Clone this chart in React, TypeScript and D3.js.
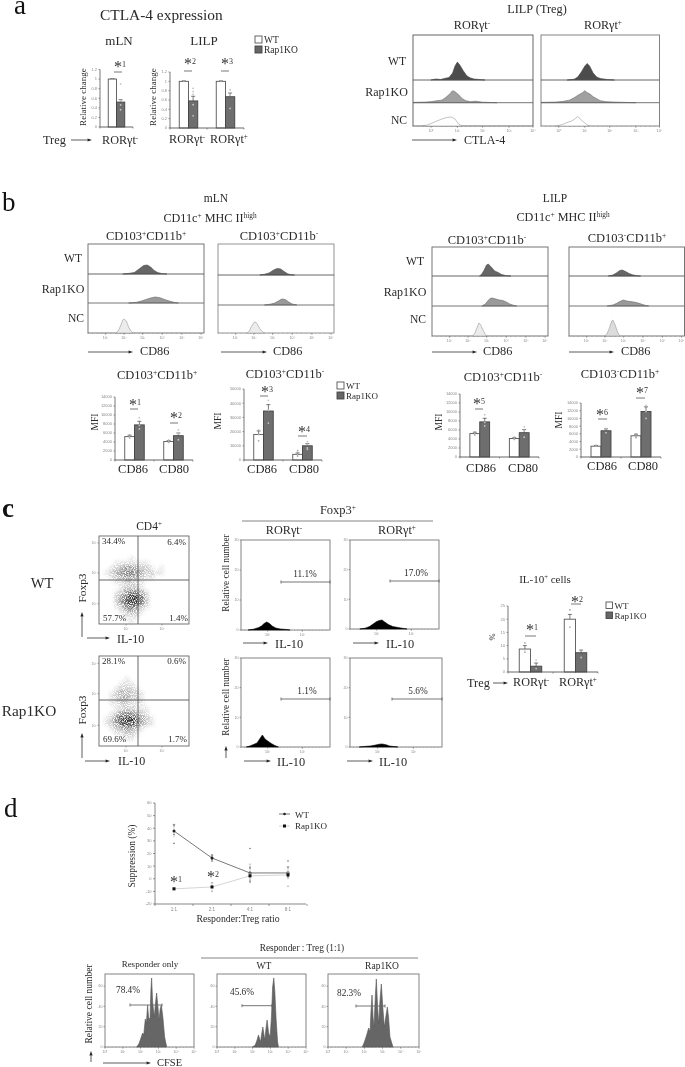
import React from 'react';
import * as d3 from 'd3';

type Pt = [number, number];

// ---------- bar chart data ----------
const groupsRor1 = ['RORγt-'];
const groupsRor2 = ['RORγt-', 'RORγt+'];
const groupsCd = ['CD86', 'CD80'];

const relTicks = [0, 0.2, 0.4, 0.6, 0.8, 1, 1.2];
const mlnCtlaWT = [1];
const mlnCtlaKO = [0.52];
const mlnCtlaErrWT = [0.01];
const mlnCtlaErrKO = [0.05];
const mlnCtlaDotsWT = [[1]];
const mlnCtlaDotsKO = [[0.9, 0.55, 0.46, 0.36]];
const lilpCtlaWT = [1, 1];
const lilpCtlaKO = [0.58, 0.67];
const lilpCtlaErrWT = [0.01, 0.01];
const lilpCtlaErrKO = [0.1, 0.08];
const lilpCtlaDotsWT = [[1], [1]];
const lilpCtlaDotsKO = [[0.85, 0.78, 0.72, 0.5, 0.26], [0.82, 0.76, 0.7, 0.42]];

const mfi1WT = [5200, 4100];
const mfi1KO = [7800, 5400];
const mfi1ErrWT = [300, 200];
const mfi1ErrKO = [800, 600];
const mfi1DotsWT = [[5600, 5200, 4900], [4400, 4100, 3900]];
const mfi1DotsKO = [[9400, 7700, 6900], [6700, 5800, 4500]];
const mfi2WT = [18000, 4000];
const mfi2KO = [34500, 10000];
const mfi2ErrWT = [2500, 1000];
const mfi2ErrKO = [4500, 1500];
const mfi2DotsWT = [[21000, 18000, 13500], [6500, 4000, 2800]];
const mfi2DotsKO = [[42000, 35000, 26000], [13000, 11000, 8500, 7500]];
const mfi3WT = [5200, 4100];
const mfi3KO = [7800, 5400];
const mfi3ErrWT = [300, 200];
const mfi3ErrKO = [800, 700];
const mfi3DotsWT = [[5600, 5200, 4900], [4400, 4100, 3900]];
const mfi3DotsKO = [[9400, 7700, 6900], [6700, 5900, 4400]];
const mfi4WT = [2800, 5500];
const mfi4KO = [6800, 11800];
const mfi4ErrWT = [200, 400];
const mfi4ErrKO = [500, 1200];
const mfi4DotsWT = [[3000, 2800], [6000, 5400, 5000]];
const mfi4DotsKO = [[7400, 6300], [13400, 11800, 10000]];
const mfiTicks14 = [0, 2000, 4000, 6000, 8000, 10000, 12000, 14000];
const mfiTicks50 = [0, 10000, 20000, 30000, 40000, 50000];

const il10Ticks = [0, 5, 10, 15, 20, 25];
const il10WT = [8.7, 20];
const il10KO = [2.2, 7.3];
const il10ErrWT = [1.3, 1.8];
const il10ErrKO = [1.2, 1];
const il10DotsWT = [[11, 8.5, 7.5], [23.5, 17]];
const il10DotsKO = [[4.5, 1.3], [8.5, 5.5]];

// ---------- histogram data: [% of the axis, count] ----------
const a1WT: Pt[] = [[15,0],[19,1],[23,.5],[26,1.5],[30,2.5],[33,7],[35,14],[37,18],[39,15],[42,9],[45,4],[48,2],[51,1],[55,.5],[60,0]];
const a1KO: Pt[] = [[0,.3],[10,.6],[15,1],[20,2],[24,2.5],[27,5],[30,8],[33,12],[35,11],[38,8],[41,4],[44,2],[48,1],[52,1.5],[58,.5],[70,0]];
const a1NC: Pt[] = [[8,0],[12,1],[16,3],[20,5],[24,7],[28,8.5],[32,9],[35,7],[38,2],[41,0]];
const a2WT: Pt[] = [[22,0],[28,.8],[31,3],[34,8],[37,14],[39,16.5],[41,14],[44,7],[47,3],[50,1.5],[56,.5],[62,0]];
const a2KO: Pt[] = [[0,.3],[12,.6],[18,1.2],[24,2.5],[28,5],[32,8],[35,10],[37,12],[39,10],[41,9],[44,6],[47,4],[50,2],[55,1],[65,.5],[80,0]];
const a2NC: Pt[] = [[13,0],[18,1.5],[22,3.5],[26,5],[29,7.5],[31,9.5],[34,6],[37,3],[39,1],[41,0]];

const b1WT: Pt[] = [[30,0],[36,.7],[40,1.5],[44,5],[48,8.5],[51,9],[54,7],[57,3.5],[60,1.5],[64,.3],[68,0]];
const b1KO: Pt[] = [[35,0],[42,.7],[46,2],[50,3.5],[54,5],[58,6],[62,5.3],[66,3.5],[70,2],[74,.7],[78,0]];
const b1NC: Pt[] = [[24,0],[26,2],[28,7],[30,13],[31,14],[33,12],[35,6],[37,2],[39,0]];
const b2WT: Pt[] = [[36,0],[40,.7],[44,2],[48,5],[51,6.5],[54,6],[57,3.5],[60,1.2],[63,.3],[66,0]];
const b2KO: Pt[] = [[40,0],[45,.8],[49,2],[52,4],[55,6],[58,5.5],[61,3],[64,1],[68,0]];
const b2NC: Pt[] = [[25,0],[27,2],[29,7],[31,10.5],[32.5,11],[34,8.5],[36,4.5],[38,1.5],[40,0]];
const b3WT: Pt[] = [[41,0],[43,2],[45,6],[47,11],[48.5,12],[51,9],[54,5],[57,3.5],[60,1.5],[64,.3],[68,0]];
const b3KO: Pt[] = [[43,0],[46,2],[48,5],[50,7.5],[52,8],[55,7],[58,6],[61,5.5],[64,4],[67,2],[70,.8],[73,0]];
const b3NC: Pt[] = [[35,0],[37,3],[39,9],[40.5,13],[42,11],[44,6],[46,1.5],[47,0]];
const b4WT: Pt[] = [[34,0],[38,1],[41,3],[44,5.5],[46,6],[49,4.5],[52,2.5],[55,1.2],[59,.2],[62,0]];
const b4KO: Pt[] = [[33,0],[38,1],[41,2.5],[44,4.5],[47,6],[50,5],[53,4.5],[56,4],[59,3.3],[62,2.2],[65,1],[69,0]];
const b4NC: Pt[] = [[31,0],[33,2.5],[35,8],[37,15],[38,16],[40,11],[42,4],[44,0]];

const cTL: Pt[] = [[8,0],[14,.8],[20,2.5],[23,4],[26,6.5],[29,8],[32,6.5],[35,4],[39,2],[44,1],[50,.6],[55,0]];
const cTR: Pt[] = [[11,0],[17,.8],[22,2.5],[26,5],[30,7.5],[33,8.5],[36,9],[39,7],[43,4.5],[48,2.5],[54,1.5],[60,.6],[64,0]];
const cBL: Pt[] = [[6,0],[10,1],[14,2.5],[18,4],[21,8],[24,12],[27,8],[30,6],[34,3.5],[38,1.5],[42,0]];
const cBR: Pt[] = [[10,0],[16,.6],[22,1],[28,2],[32,2.8],[35,3],[39,2.3],[43,1],[48,.4],[52,0]];

const dOnly: Pt[] = [[35.6,0],[38,3],[40,8],[42.3,14],[43.5,12],[45.3,28],[46.5,24],[47.9,42],[49,29],[50.6,28],[51.5,55],[52.4,69],[53.5,45],[55.4,30],[56.5,42],[58,54],[59.5,40],[60.7,27],[62,38],[63.3,42],[65,30],[67,10],[69.3,0]];
const dWT: Pt[] = [[39.9,0],[43,2],[45,7],[46.6,12],[48.9,5],[50,12],[51.5,20],[53,11],[53.7,7],[55,18],[56.3,27],[58,14],[59.7,10],[61.2,30],[62.5,60],[63.8,69],[65,55],[66.4,28],[68,6],[69,0]];
const dKO: Pt[] = [[37.7,0],[40,5],[42.5,12],[44.7,19],[46.2,15],[47.2,35],[48.4,52],[49.5,30],[50.5,20],[52,50],[53.1,68],[54.5,40],[55.7,23],[57,45],[58.6,63],[60.2,40],[61.9,20],[63.5,30],[65.2,40],[66.5,30],[68.1,10],[71.4,0]];

// ---------- dot-plot densities: one digit per cell, 0 (empty) to 9 (darkest) ----------
const dotWT = [
  '000000000000000000','000000000000000000','000000000000000000','000000000000000000',
  '000000100000000000','000111111100000000','001234432210100000','012345543221100000',
  '001234432110000000','000112211000000000','000012221000000000','000124543100000000',
  '000246896200000000','000247885200000000','000125642100000000','000012321000000000',
  '000001110000000000','000000100000000000',
];
const dotKO = [
  '000000000000000000','000000000000000000','000000000000000000','000000000000000000',
  '000001000000000000','000011100000000000','000122210000000000','001233221000000000',
  '001233221000000000','001122111000000000','000112211100000000','001245432100000000',
  '012578964210000000','012478763210000000','001234321000000000','000112210000000000',
  '000001100000000000','000000000000000000',
];

// ---------- suppression line chart ----------
const ratios = ['1:1', '2:1', '4:1', '8:1'];
const suppTicks = [-20, -10, 0, 10, 20, 30, 40, 50, 60];
const suppWT = [37.8, 16.4, 4.6, 4.6];
const suppKO = [-8, -6.5, 2.3, 3];
const suppErrWT = [5, 2, 7, 5];
const suppErrKO = [1, 3, 2.5, 3];
const suppDotsWT = [[43, 42, 35, 28], [19, 18, 15, 14], [24, 9, 5, 2, -2], [14, 9, 5, 2]];
const suppDotsKO = [[-8], [-3, -6, -10], [8, 4, 2, -1, -3], [9, 5, 3, 1, -6]];

// ---------- styles ----------
const SERIF = '"Liberation Serif", serif';
const SANS = '"Liberation Sans", sans-serif';
const INK = '#2a2a2a';
const AX = '#555';
const TICK = '#888';

// "^x" or "^{abc}" marks a superscript
function T({ x, y, s, size = 12, anchor = 'start', rotate, fill = INK, weight }: any) {
  const parts: React.ReactNode[] = [];
  const re = /\^\{([^}]*)\}|\^(.)/g;
  const lift = size * 0.35;
  let last = 0, m: RegExpExecArray | null, raised = false, k = 0;
  while ((m = re.exec(s))) {
    if (m.index > last) {
      parts.push(<tspan key={k++} dy={raised ? lift : 0}>{s.slice(last, m.index)}</tspan>);
      raised = false;
    }
    parts.push(<tspan key={k++} fontSize={size * 0.6} dy={raised ? 0 : -lift}>{m[1] ?? m[2]}</tspan>);
    raised = true;
    last = re.lastIndex;
  }
  if (last < s.length) parts.push(<tspan key={k++} dy={raised ? lift : 0}>{s.slice(last)}</tspan>);
  return (
    <text x={x} y={y} fontFamily={SERIF} fontSize={size} textAnchor={anchor} fill={fill} fontWeight={weight}
      transform={rotate ? `rotate(${rotate} ${x} ${y})` : undefined}>{parts}</text>
  );
}

function Arrow({ x1, y1, x2, y2, w = 0.8 }: any) {
  const a = Math.atan2(y2 - y1, x2 - x1);
  const l = 4.5, h = 1.6;
  const bx = x2 - l * Math.cos(a), by = y2 - l * Math.sin(a);
  const px = -Math.sin(a) * h, py = Math.cos(a) * h;
  return <g>
    <line x1={x1} y1={y1} x2={bx} y2={by} stroke="#333" strokeWidth={w} />
    <polygon points={`${x2},${y2} ${bx + px},${by + py} ${bx - px},${by - py}`} fill="#222" />
  </g>;
}

function Star({ cx, y, n, line }: any) {
  return <g>
    <text x={cx} y={y} fontFamily={SERIF} textAnchor="middle" fill="#333">
      <tspan fontSize={16} dy={5}>*</tspan><tspan fontSize={8} dy={-5}>{n}</tspan>
    </text>
    {line && <line x1={line[0]} x2={line[1]} y1={line[2]} y2={line[2]} stroke="#555" strokeWidth={0.8} />}
  </g>;
}

function Legend({ x, y1, y2, size = 7, fs = 9 }: any) {
  return <g>
    <rect x={x} y={y1} width={size} height={size} fill="#fff" stroke="#555" strokeWidth={0.9} />
    <rect x={x} y={y2} width={size} height={size} fill="#666" stroke="#444" strokeWidth={0.9} />
    <T x={x + size + 2} y={y1 + size} s="WT" size={fs} />
    <T x={x + size + 2} y={y2 + size} s="Rap1KO" size={fs} />
  </g>;
}

function Bars({ left, right, top, bottom, max, ticks, groups, wt, ko, errW, errK, dotsW, dotsK, fmt }: any) {
  const y = d3.scaleLinear().domain([0, max]).range([bottom, top]);
  const x = d3.scaleBand<string>().domain(groups).range([left, right]).paddingInner(0.5).paddingOuter(0.25);
  const sub = d3.scaleBand<string>().domain(['WT', 'KO']).range([0, x.bandwidth()]);
  const edges = [left, ...groups.map((g: string) => x(g)! + x.bandwidth() + x.step() * 0.25)];
  const series: any[] = [['WT', wt, errW, dotsW], ['KO', ko, errK, dotsK]];
  return <g>
    {series.map(([name, vals, errs, dots]) => groups.map((g: string, i: number) => {
      const bx = x(g)! + sub(name)!, bw = sub.bandwidth(), cx = bx + bw / 2;
      const isW = name === 'WT';
      return <g key={name + g}>
        <line x1={cx} x2={cx} y1={y(vals[i])} y2={y(vals[i] + errs[i])} stroke="#444" strokeWidth={0.7} />
        <line x1={cx - 2} x2={cx + 2} y1={y(vals[i] + errs[i])} y2={y(vals[i] + errs[i])} stroke="#444" strokeWidth={0.7} />
        <rect x={bx} y={y(vals[i])} width={bw} height={bottom - y(vals[i])} fill={isW ? '#fff' : '#6e6e6e'} stroke={isW ? '#555' : '#444'} strokeWidth={0.9} />
        {dots[i].map((d: number, j: number) => <circle key={j} cx={cx} cy={y(d)} r={0.9} fill={isW ? '#aaa' : '#c4c4c4'} />)}
      </g>;
    }))}
    <line x1={left} x2={left} y1={top} y2={bottom} stroke={AX} strokeWidth={0.8} />
    <line x1={left} x2={right} y1={bottom} y2={bottom} stroke={AX} strokeWidth={0.9} />
    {edges.map((e: number, i: number) => <line key={i} x1={e} x2={e} y1={bottom} y2={bottom + 1.5} stroke={AX} strokeWidth={0.6} />)}
    {ticks.map((t: number) => <g key={t}>
      <line x1={left - 1.5} x2={left} y1={y(t)} y2={y(t)} stroke={AX} strokeWidth={0.6} />
      <text x={left - 3} y={y(t) + 1.4} textAnchor="end" fontSize={4} fontFamily={SANS} fill={TICK}>{fmt ? fmt(t) : t}</text>
    </g>)}
  </g>;
}

function Hist({ left, right, top, bottom, lanes, tickPct, labels, yTicks, gate, border = '#666', tick = true }: any) {
  const x = d3.scaleLinear().domain([0, 100]).range([left, right]);
  return <g>
    <rect x={left} y={top} width={right - left} height={bottom - top} fill="#fff" stroke={border} strokeWidth={0.9} />
    {lanes.map((l: any, i: number) => {
      const y = d3.scaleLinear().domain([0, 100]).range([l.base, l.base - 100]);
      const area = d3.area<Pt>().x(d => x(d[0])).y0(l.base).y1(d => y(d[1]));
      return <g key={i}>
        <path d={area(l.data)!} fill={l.fill} stroke={l.stroke} strokeWidth={0.6} />
        {l.rule && <line x1={left} x2={right} y1={l.base} y2={l.base} stroke={l.rule} strokeWidth={0.9} />}
      </g>;
    })}
    {tick && tickPct.map((p: number, i: number) => <g key={i}>
      <line x1={x(p)} x2={x(p)} y1={bottom} y2={bottom + 1.8} stroke={AX} strokeWidth={0.5} />
      <text x={x(p)} y={bottom + 5.5} textAnchor="middle" fontSize={3.6} fontFamily={SANS} fill={TICK}>{labels[i]}</text>
    </g>)}
    {tick && d3.range(0, 100, 4).map(p => <line key={p} x1={x(p)} x2={x(p)} y1={bottom} y2={bottom + 1} stroke="#777" strokeWidth={0.35} />)}
    {yTicks && yTicks.values.map((v: number) => {
      const yy = d3.scaleLinear().domain([0, yTicks.max]).range([bottom, top])(v);
      return <g key={v}>
        <line x1={left - 1.5} x2={left} y1={yy} y2={yy} stroke={AX} strokeWidth={0.5} />
        <text x={left - 2.5} y={yy + 1.3} textAnchor="end" fontSize={3.6} fontFamily={SANS} fill={TICK}>{v}</text>
      </g>;
    })}
    {gate && <g stroke="#666" strokeWidth={0.9}>
      <line x1={gate[0]} x2={gate[1]} y1={gate[2]} y2={gate[2]} />
      <line x1={gate[0]} x2={gate[0]} y1={gate[2] - 1.5} y2={gate[2] + 1.5} />
      <line x1={gate[1]} x2={gate[1]} y1={gate[2] - 1.5} y2={gate[2] + 1.5} />
    </g>}
  </g>;
}

const dotTicksY = [0.08, 0.42, 0.77];
const dotTicksX = [0.3, 0.7];

function DotPlot({ left, right, top, bottom, vx, hy, cells, pct }: any) {
  const n = cells.length;
  const rows = d3.scaleBand<number>().domain(d3.range(n)).range([top, bottom]);
  const cols = d3.scaleBand<number>().domain(d3.range(cells[0].length)).range([left, right]);
  return <g>
    <rect x={left} y={top} width={right - left} height={bottom - top} fill="#fff" />
    <g filter="url(#grain)">
      {cells.map((row: string, r: number) => row.split('').map((c, i) => +c > 0 &&
        <rect key={`${r}-${i}`} x={cols(i)} y={rows(r)} width={cols.bandwidth() + 0.3} height={rows.bandwidth() + 0.3} fill="#1c1c1c" opacity={+c / 9} />))}
    </g>
    <rect x={left} y={top} width={right - left} height={bottom - top} fill="none" stroke="#666" strokeWidth={0.9} />
    <line x1={vx} x2={vx} y1={top} y2={bottom} stroke="#555" strokeWidth={0.9} />
    <line x1={left} x2={right} y1={hy} y2={hy} stroke="#555" strokeWidth={0.9} />
    {dotTicksY.map(f => {
      const yy = top + (bottom - top) * f;
      return <g key={f}>
        <line x1={left - 1.5} x2={left} y1={yy} y2={yy} stroke={AX} strokeWidth={0.5} />
        <text x={left - 2.5} y={yy + 1.3} textAnchor="end" fontSize={3.4} fontFamily={SANS} fill={TICK}>10²</text>
      </g>;
    })}
    {dotTicksX.map(f => {
      const xx = left + (right - left) * f;
      return <g key={f}>
        <line x1={xx} x2={xx} y1={bottom} y2={bottom + 1.5} stroke={AX} strokeWidth={0.5} />
        <text x={xx} y={bottom + 5.5} textAnchor="middle" fontSize={3.4} fontFamily={SANS} fill={TICK}>10²</text>
      </g>;
    })}
    {pct.map((p: any, i: number) => <T key={i} x={p[0]} y={p[1]} s={p[2]} size={9} anchor={p[3] || 'start'} />)}
  </g>;
}

function Suppression() {
  const y = d3.scaleLinear().domain([-20, 60]).range([904, 803]);
  const x = d3.scalePoint<string>().domain(ratios).range([174, 288]);
  const line = d3.line<number>().x((_, i) => x(ratios[i])!).y(d => y(d));
  const step = x.step();
  const edges = [155, ...ratios.map(r => x(r)! + step / 2)];
  return <g>
    <line x1={155} x2={155} y1={803} y2={904} stroke={AX} strokeWidth={0.7} />
    <line x1={155} x2={306} y1={904} y2={904} stroke={AX} strokeWidth={0.7} />
    {suppTicks.map(t => <g key={t}>
      <line x1={153} x2={155} y1={y(t)} y2={y(t)} stroke={AX} strokeWidth={0.6} />
      <text x={151.5} y={y(t) + 1.4} textAnchor="end" fontSize={4} fontFamily={SANS} fill={TICK}>{t}</text>
    </g>)}
    {edges.map((e, i) => <line key={i} x1={e} x2={e} y1={904} y2={906} stroke={AX} strokeWidth={0.6} />)}
    {ratios.map(r => <text key={r} x={x(r)} y={911} textAnchor="middle" fontSize={4.5} fontFamily={SANS} fill={TICK}>{r}</text>)}
    <path d={line(suppKO)!} fill="none" stroke="#d0d0d0" strokeWidth={0.9} />
    <path d={line(suppWT)!} fill="none" stroke="#6a6a6a" strokeWidth={0.9} />
    {[[suppWT, suppErrWT, suppDotsWT, '#666'], [suppKO, suppErrKO, suppDotsKO, '#bbb']].map(([vals, errs, dots]: any, s) =>
      ratios.map((r, i) => {
        const cx = x(r)!;
        return <g key={s + r}>
          <line x1={cx} x2={cx} y1={y(vals[i] - errs[i])} y2={y(vals[i] + errs[i])} stroke="#aaa" strokeWidth={0.5} />
          <line x1={cx - 1.5} x2={cx + 1.5} y1={y(vals[i] + errs[i])} y2={y(vals[i] + errs[i])} stroke="#aaa" strokeWidth={0.5} />
          {dots[i].map((d: number, j: number) => <circle key={j} cx={cx} cy={y(d)} r={0.8} fill={s ? '#aaa' : '#777'} />)}
          {s === 0
            ? <circle cx={cx} cy={y(vals[i])} r={1.5} fill="#222" />
            : <rect x={cx - 1.5} y={y(vals[i]) - 1.5} width={3} height={3} fill="#111" />}
        </g>;
      }))}
    <line x1={279} x2={290} y1={814} y2={814} stroke="#555" strokeWidth={0.8} />
    <circle cx={284.5} cy={814} r={1.3} fill="#222" />
    <line x1={279} x2={290} y1={826} y2={826} stroke="#ccc" strokeWidth={0.8} />
    <rect x={283} y={824.5} width={3} height={3} fill="#111" />
    <T x={295} y={818} s="WT" size={9} />
    <T x={295} y={829} s="Rap1KO" size={9} />
    <T x={135} y={856} s="Suppression (%)" size={9.5} anchor="middle" rotate={-90} />
    <T x={238} y={922} s="Responder:Treg ratio" size={9.8} anchor="middle" />
    <Star cx={176} y={882} n="1" />
    <Star cx={213} y={877} n="2" />
  </g>;
}

const ticksA = [15, 37, 58, 80, 100];
const ticksB = [15, 31, 47, 64, 81, 97.5];
const ticksC = [30, 69];
const ticksD = [0, 20, 40, 60, 80, 100];
const labelsA = ['10⁰', '10¹', '10²', '10³', '10⁴'];
const labelsB = ['10¹', '10²', '10³', '10⁴', '10⁵', '10⁶'];
const labelsC = ['10¹', '10²'];
const labelsD = ['10⁰', '10¹', '10²', '10³', '10⁴', '10⁵'];

const lanesOf = (b1: number, b2: number, b3: number, wt: Pt[], ko: Pt[], nc: Pt[], cw = '#5c5c5c', ck = '#9c9c9c', cn = '#ececec') => [
  { base: b1, data: wt, fill: cw, stroke: '#444', rule: '#555' },
  { base: b2, data: ko, fill: ck, stroke: '#666', rule: '#666' },
  { base: b3, data: nc, fill: cn, stroke: '#999' },
];

export default function App() {
  const pct2 = (v: number) => String(v);
  return (
    <svg width={685} height={1067} viewBox="0 0 685 1067"
      style={{ position: 'absolute', left: 0, top: 0, background: '#fff', filter: 'blur(0.35px)' }}>
      <defs>
        <filter id="grain" x="-5%" y="-5%" width="110%" height="110%" colorInterpolationFilters="sRGB">
          <feGaussianBlur in="SourceGraphic" stdDeviation="1.6" result="density" />
          <feTurbulence type="fractalNoise" baseFrequency="1.1" numOctaves="1" seed="7" result="noise" />
          <feColorMatrix in="noise" type="matrix" values="0 0 0 0 0  0 0 0 0 0  0 0 0 0 0  4 0 0 0 -1.3" result="mask" />
          <feComposite in="density" in2="mask" operator="in" />
        </filter>
      </defs>

      {/* ---- a ---- */}
      <T x={14} y={14} s="a" size={27} fill="#111" />
      <T x={100} y={20} s="CTLA-4 expression" size={15.4} />
      <T x={119} y={45} s="mLN" size={13} anchor="middle" />
      <T x={204} y={45} s="LILP" size={13} anchor="middle" />
      <Legend x={255} y1={36} y2={46} fs={9.5} />
      <Bars left={100} right={133} top={69.5} bottom={127} max={1.2} ticks={relTicks} groups={groupsRor1}
        wt={mlnCtlaWT} ko={mlnCtlaKO} errW={mlnCtlaErrWT} errK={mlnCtlaErrKO} dotsW={mlnCtlaDotsWT} dotsK={mlnCtlaDotsKO} fmt={pct2} />
      <Bars left={170} right={244} top={72} bottom={128} max={1.2} ticks={relTicks} groups={groupsRor2}
        wt={lilpCtlaWT} ko={lilpCtlaKO} errW={lilpCtlaErrWT} errK={lilpCtlaErrKO} dotsW={lilpCtlaDotsWT} dotsK={lilpCtlaDotsKO} fmt={pct2} />
      <T x={86} y={97} s="Relative change" size={9} anchor="middle" rotate={-90} />
      <T x={156} y={97} s="Relative change" size={9} anchor="middle" rotate={-90} />
      <Star cx={120} y={67} n="1" line={[114, 122, 72]} />
      <Star cx={190} y={64} n="2" line={[184, 192, 71]} />
      <Star cx={227} y={64} n="3" line={[221, 229, 71]} />
      <T x={43} y={144} s="Treg" size={12.3} />
      <Arrow x1={71} y1={140} x2={92} y2={140} />
      <T x={102} y={144} s="RORγt^-" size={12.2} />
      <T x={169} y={143} s="RORγt^-" size={12.2} />
      <T x={210} y={143} s="RORγt^+" size={12.2} />

      <T x={537} y={13} s="LILP (Treg)" size={12.3} anchor="middle" />
      <T x={472} y={29} s="RORγt^-" size={12.2} anchor="middle" />
      <T x={603} y={29} s="RORγt^+" size={12.2} anchor="middle" />
      <Hist left={413} right={533} top={35} bottom={126} lanes={lanesOf(80, 102.7, 126, a1WT, a1KO, a1NC, '#4c4c4c', '#a0a0a0', '#fff')} tickPct={ticksA} labels={labelsA} border="#555" />
      <Hist left={541} right={659.5} top={35} bottom={126} lanes={lanesOf(80, 102.7, 126, a2WT, a2KO, a2NC, '#4c4c4c', '#a0a0a0', '#fff')} tickPct={ticksA} labels={labelsA} border="#777" />
      <T x={397} y={65} s="WT" size={11.6} anchor="middle" />
      <T x={386.5} y={96} s="Rap1KO" size={12} anchor="middle" />
      <T x={399} y={124} s="NC" size={11.6} anchor="middle" />
      <Arrow x1={412} y1={140} x2={457} y2={140} />
      <T x={464} y={144} s="CTLA-4" size={12} />

      {/* ---- b ---- */}
      <T x={2} y={211} s="b" size={27} fill="#111" />
      <T x={216} y={202} s="mLN" size={11.5} anchor="middle" />
      <T x={210} y={222} s="CD11c^+ MHC II^{high}" size={12.2} anchor="middle" />
      <T x={146} y={240} s="CD103^+CD11b^+" size={12.5} anchor="middle" />
      <T x={279} y={240} s="CD103^+CD11b^-" size={12.5} anchor="middle" />
      <Hist left={88} right={204} top={244} bottom={333} lanes={lanesOf(274, 303, 333, b1WT, b1KO, b1NC, '#666', '#9a9a9a')} tickPct={ticksB} labels={labelsB} />
      <Hist left={218} right={334} top={244} bottom={333} lanes={lanesOf(275, 305, 333, b2WT, b2KO, b2NC, '#666', '#9a9a9a')} tickPct={ticksB} labels={labelsB} border="#888" />
      <T x={73} y={262} s="WT" size={11.6} anchor="middle" />
      <T x={63} y={293} s="Rap1KO" size={12} anchor="middle" />
      <T x={76} y={322} s="NC" size={11.6} anchor="middle" />
      <Arrow x1={88} y1={352} x2={133} y2={352} />
      <T x={140} y={355} s="CD86" size={12.3} />
      <Arrow x1={221} y1={352} x2={267} y2={352} />
      <T x={273} y={355} s="CD86" size={12.3} />

      <T x={555} y={202} s="LILP" size={11.5} anchor="middle" />
      <T x={563} y={221} s="CD11c^+ MHC II^{high}" size={12.2} anchor="middle" />
      <T x={487} y={244} s="CD103^+CD11b^-" size={12.5} anchor="middle" />
      <T x={627} y={242} s="CD103^-CD11b^+" size={12.5} anchor="middle" />
      <Hist left={432} right={548} top={247} bottom={336} lanes={lanesOf(276, 306, 336, b3WT, b3KO, b3NC, '#666', '#9a9a9a')} tickPct={ticksB} labels={labelsB} />
      <Hist left={569} right={684.5} top={247} bottom={336} lanes={lanesOf(276, 306, 336, b4WT, b4KO, b4NC, '#666', '#9a9a9a', '#dcdcdc')} tickPct={ticksB} labels={labelsB} />
      <T x={415} y={265} s="WT" size={11.6} anchor="middle" />
      <T x={405} y={296} s="Rap1KO" size={12} anchor="middle" />
      <T x={418} y={323} s="NC" size={11.6} anchor="middle" />
      <Arrow x1={432} y1={352} x2={477} y2={352} />
      <T x={483} y={355} s="CD86" size={12.3} />
      <Arrow x1={569} y1={352} x2={614} y2={352} />
      <T x={621} y={355} s="CD86" size={12.3} />

      <T x={157} y={379} s="CD103^+CD11b^+" size={12.5} anchor="middle" />
      <Bars left={115} right={193} top={397} bottom={460} max={14000} ticks={mfiTicks14} groups={groupsCd}
        wt={mfi1WT} ko={mfi1KO} errW={mfi1ErrWT} errK={mfi1ErrKO} dotsW={mfi1DotsWT} dotsK={mfi1DotsKO} />
      <T x={98} y={422} s="MFI" size={9.5} anchor="middle" rotate={-90} />
      <Star cx={135} y={405} n="1" line={[130, 138, 409]} />
      <Star cx={176} y={418} n="2" line={[170, 178, 423]} />
      <T x={133} y={473} s="CD86" size={12.5} anchor="middle" />
      <T x={174} y={473} s="CD80" size={12.5} anchor="middle" />

      <T x={285} y={378} s="CD103^+CD11b^-" size={12.5} anchor="middle" />
      <Bars left={244} right={322} top={389} bottom={460} max={50000} ticks={mfiTicks50} groups={groupsCd}
        wt={mfi2WT} ko={mfi2KO} errW={mfi2ErrWT} errK={mfi2ErrKO} dotsW={mfi2DotsWT} dotsK={mfi2DotsKO} />
      <T x={221} y={421} s="MFI" size={9.5} anchor="middle" rotate={-90} />
      <Star cx={267} y={392} n="3" line={[260, 268, 396]} />
      <Star cx={304} y={432} n="4" line={[298, 307, 436]} />
      <T x={262} y={473} s="CD86" size={12.5} anchor="middle" />
      <T x={304} y={473} s="CD80" size={12.5} anchor="middle" />
      <Legend x={337} y1={382} y2={392} />

      <T x={503} y={381} s="CD103^+CD11b^-" size={12.5} anchor="middle" />
      <Bars left={460} right={539} top={394} bottom={457} max={14000} ticks={mfiTicks14} groups={groupsCd}
        wt={mfi3WT} ko={mfi3KO} errW={mfi3ErrWT} errK={mfi3ErrKO} dotsW={mfi3DotsWT} dotsK={mfi3DotsKO} />
      <T x={442} y={422} s="MFI" size={9.5} anchor="middle" rotate={-90} />
      <Star cx={479} y={404} n="5" line={[475, 483, 409]} />
      <T x={481} y={472} s="CD86" size={12.5} anchor="middle" />
      <T x={523} y={472} s="CD80" size={12.5} anchor="middle" />

      <T x={620} y={378} s="CD103^-CD11b^+" size={12.5} anchor="middle" />
      <Bars left={581} right={661} top={403} bottom={457} max={14000} ticks={mfiTicks14} groups={groupsCd}
        wt={mfi4WT} ko={mfi4KO} errW={mfi4ErrWT} errK={mfi4ErrKO} dotsW={mfi4DotsWT} dotsK={mfi4DotsKO} />
      <T x={562} y={420} s="MFI" size={9.5} anchor="middle" rotate={-90} />
      <Star cx={602} y={415} n="6" line={[598, 607, 419]} />
      <Star cx={642} y={393} n="7" line={[636, 645, 398]} />
      <T x={602} y={470} s="CD86" size={12.5} anchor="middle" />
      <T x={643} y={470} s="CD80" size={12.5} anchor="middle" />

      {/* ---- c ---- */}
      <T x={2} y={517} s="c" size={27} fill="#111" weight="bold" />
      <T x={149} y={530} s="CD4^+" size={11.5} anchor="middle" />
      <T x={42} y={588} s="WT" size={14.6} anchor="middle" />
      <T x={29} y={716} s="Rap1KO" size={15.3} anchor="middle" />
      <DotPlot left={99} right={189} top={536} bottom={624} vx={138} hy={580} cells={dotWT}
        pct={[[102, 544, '34.4%'], [186, 545, '6.4%', 'end'], [103, 621, '57.7%'], [188, 621, '1.4%', 'end']]} />
      <DotPlot left={99} right={189} top={656} bottom={746} vx={138} hy={700} cells={dotKO}
        pct={[[102, 664, '28.1%'], [186, 664, '0.6%', 'end'], [103, 742, '69.6%'], [187, 742, '1.7%', 'end']]} />
      <T x={86} y={588} s="Foxp3" size={11.4} anchor="middle" rotate={-90} />
      <T x={86} y={710} s="Foxp3" size={11.4} anchor="middle" rotate={-90} />
      <Arrow x1={82} y1={637} x2={82} y2={612} />
      <Arrow x1={82} y1={758} x2={82} y2={733} />
      <Arrow x1={87} y1={638} x2={110} y2={638} />
      <Arrow x1={85} y1={761} x2={110} y2={761} />
      <T x={117} y={643} s="IL-10" size={12} />
      <T x={118} y={765} s="IL-10" size={12} />

      <T x={338} y={514} s="Foxp3^+" size={12.5} anchor="middle" />
      <line x1={242} x2={433} y1={521} y2={521} stroke="#666" strokeWidth={0.8} />
      <T x={284} y={534} s="RORγt^-" size={12.2} anchor="middle" />
      <T x={397} y={534} s="RORγt^+" size={12.2} anchor="middle" />
      {[
        { l: 241, r: 330, t: 540, b: 630, data: cTL, gate: [281, 330, 582], pc: '11.1%', px: 305, py: 577, ax: [243, 268, 643], tx: 275, ty: 648 },
        { l: 350, r: 439, t: 540, b: 629, data: cTR, gate: [390, 439, 581], pc: '17.0%', px: 416, py: 576, ax: [353, 379, 643], tx: 386, ty: 648 },
        { l: 241, r: 330, t: 658, b: 747, data: cBL, gate: [281, 330, 699], pc: '1.1%', px: 307, py: 694, ax: [244, 271, 761], tx: 277, ty: 766 },
        { l: 350, r: 442, t: 658, b: 747, data: cBR, gate: [392, 442, 699], pc: '5.6%', px: 418, py: 694, ax: [347, 373, 761], tx: 379, ty: 766 },
      ].map((p, i) => <g key={i}>
        <Hist left={p.l} right={p.r} top={p.t} bottom={p.b} lanes={[{ base: p.b, data: p.data, fill: '#000', stroke: '#000' }]}
          tickPct={ticksC} labels={labelsC} yTicks={{ values: [0, 10, 20, 30], max: 30 }} gate={p.gate} border="#777" />
        <T x={p.px} y={p.py} s={p.pc} size={9.3} anchor="middle" />
        <Arrow x1={p.ax[0]} y1={p.ax[2]} x2={p.ax[1]} y2={p.ax[2]} />
        <T x={p.tx} y={p.ty} s="IL-10" size={12.4} />
      </g>)}
      <T x={229} y={573} s="Relative cell number" size={9.3} anchor="middle" rotate={-90} />
      <T x={229} y={697} s="Relative cell number" size={9.3} anchor="middle" rotate={-90} />
      <Arrow x1={226} y1={758} x2={226} y2={746} />

      <T x={545} y={583} s="IL-10^+ cells" size={11} anchor="middle" />
      <Bars left={508} right={598} top={606} bottom={672} max={25} ticks={il10Ticks} groups={groupsRor2}
        wt={il10WT} ko={il10KO} errW={il10ErrWT} errK={il10ErrKO} dotsW={il10DotsWT} dotsK={il10DotsKO} />
      <T x={495} y={637} s="%" size={8.5} anchor="middle" rotate={-90} />
      <Star cx={532} y={630} n="1" line={[525, 536, 636]} />
      <Star cx={577} y={602} n="2" line={[571, 581, 604]} />
      <Legend x={606} y1={602} y2={612} size={6.5} fs={9} />
      <T x={467} y={687} s="Treg" size={12.3} />
      <Arrow x1={493} y1={683} x2={508} y2={683} />
      <T x={513} y={686} s="RORγt^-" size={12.2} />
      <T x={559} y={686} s="RORγt^+" size={12.2} />

      {/* ---- d ---- */}
      <T x={4} y={817} s="d" size={27} fill="#111" />
      <Suppression />
      <T x={302} y={951} s="Responder : Treg (1:1)" size={9.3} anchor="middle" />
      <line x1={201} x2={418} y1={958} y2={958} stroke="#666" strokeWidth={0.8} />
      <T x={150} y={967} s="Responder only" size={9} anchor="middle" />
      <T x={264} y={969} s="WT" size={9.5} anchor="middle" />
      <T x={382} y={969} s="Rap1KO" size={9.5} anchor="middle" />
      {[
        { l: 105, r: 194, data: dOnly, gate: [130, 162, 1005], pc: '78.4%', px: 128, py: 993 },
        { l: 217, r: 306, data: dWT, gate: [242, 272, 1005.7], pc: '45.6%', px: 242, py: 995 },
        { l: 328, r: 419, data: dKO, gate: [356, 385, 1006], pc: '82.3%', px: 349, py: 996 },
      ].map((p, i) => <g key={i}>
        <Hist left={p.l} right={p.r} top={974} bottom={1047} lanes={[{ base: 1047, data: p.data, fill: '#666', stroke: '#555' }]}
          tickPct={ticksD} labels={labelsD} yTicks={{ values: [0, 20, 40, 60], max: 72 }} gate={p.gate} border="#777" />
        <T x={p.px} y={p.py} s={p.pc} size={9.3} anchor="middle" />
      </g>)}
      <T x={92} y={1004} s="Relative cell number" size={9.5} anchor="middle" rotate={-90} />
      <Arrow x1={91} y1={1062} x2={91} y2={1051} />
      <Arrow x1={103} y1={1063} x2={151} y2={1063} />
      <T x={157} y={1066} s="CFSE" size={10.5} />
    </svg>
  );
}
